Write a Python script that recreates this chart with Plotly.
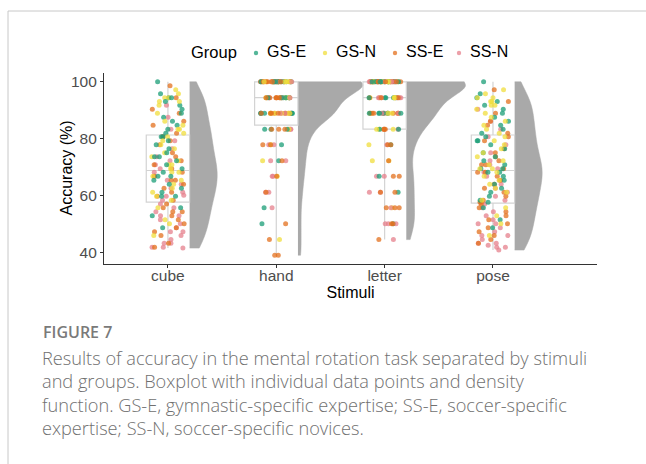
import numpy as np
import plotly.graph_objects as go

STIMULI = ["cube", "hand", "letter", "pose"]
GROUPS = ["GS-E", "GS-N", "SS-E", "SS-N"]
GROUP_COLORS = ["#1b9e77", "#f0de3c", "#e3701e", "#e6808c"]

# cube accuracy (%) per group
CUBE_GSE = [100.0, 95.8, 94.4, 94.4, 93.1, 91.7, 90.3, 88.9, 87.5, 86.1, 84.7, 83.3, 81.9,
            80.6, 80.6, 79.2, 77.8, 76.4, 75.0, 73.6, 73.6, 72.2, 70.8, 69.4,
            68.1, 66.7, 66.7, 65.3, 63.9, 62.5, 61.1, 59.7, 59.7,
            55.6, 52.8, 48.6]
CUBE_GSN = [97.2, 95.8, 94.4, 94.4, 93.1, 93.1, 91.7, 88.9, 86.1, 84.7, 83.3, 83.3, 81.9,
            80.6, 79.2, 77.8, 76.4, 75.0, 73.6, 72.2, 70.8, 70.8, 69.4,
            68.1, 68.1, 66.7, 65.3, 63.9, 62.5, 61.1, 59.7, 58.3,
            55.6, 51.4, 50.0, 45.8]
CUBE_SSE = [98.6, 94.4, 90.3, 88.9, 86.1, 84.7, 81.9,
            80.6, 79.2, 77.8, 75.0, 73.6, 72.2, 70.8, 69.4,
            68.1, 66.7, 65.3, 65.3, 63.9, 62.5, 61.1, 59.7, 58.3,
            56.9, 55.6, 54.2, 54.2, 52.8, 51.4, 50.0, 48.6, 47.2, 45.8, 43.1, 41.7]
CUBE_SSN = [91.7, 87.5, 83.3,
            80.6, 79.2, 76.4, 73.6, 72.2, 70.8, 69.4,
            68.1, 66.7, 65.3, 63.9, 62.5, 61.1, 60.0, 59.7, 58.3,
            56.9, 55.6, 54.2, 52.8, 52.8, 51.4, 50.0, 48.6, 47.2, 47.2, 45.8, 44.4,
            43.1, 43.1, 41.7, 41.7, 41.4]

# pose accuracy (%) per group
POSE_GSE = [100.0, 95.8, 94.4, 93.1, 91.7, 90.3, 88.9, 87.5, 86.1, 84.7, 83.3, 81.9,
            80.6, 79.2, 79.2, 77.8, 76.4, 75.0, 73.6, 72.2, 70.8, 69.4, 69.4,
            68.1, 68.1, 66.7, 65.3, 63.9, 62.5, 61.1, 59.7, 58.3, 57.6,
            55.6, 51.4, 48.6]
POSE_GSN = [97.2, 95.8, 94.4, 94.4, 93.1, 93.1, 91.7, 91.7, 90.3, 88.9, 87.5, 86.1, 84.7, 83.3, 81.9,
            80.6, 79.2, 77.8, 76.4, 75.0, 73.6, 72.2, 70.8, 69.4, 69.4,
            68.1, 66.7, 65.3, 63.9, 62.5, 61.1, 58.3,
            55.6, 52.8, 50.0, 45.8]
POSE_SSE = [97.2, 93.1, 88.9, 86.1, 84.7, 81.9,
            80.6, 79.2, 76.4, 75.0, 73.6, 72.2, 70.8, 70.8, 69.4,
            68.1, 68.1, 66.7, 65.3, 63.9, 62.5, 61.1, 59.7, 58.3, 57.6,
            56.9, 55.6, 54.2, 52.8, 51.4, 50.0, 48.6, 47.2, 45.8, 44.4, 43.1]
POSE_SSN = [90.3, 86.1, 83.3,
            80.6, 77.8, 75.0, 72.2, 70.8, 69.4,
            68.1, 66.7, 65.3, 63.9, 62.5, 61.1, 59.7, 58.3, 57.6,
            56.9, 55.6, 54.2, 52.8, 51.4, 50.0, 50.0, 48.6, 47.2, 45.8, 45.8, 44.4,
            43.1, 43.1, 41.7, 41.7, 40.7, 42.4]

# hand: number of participants at each accuracy level
HAND_LEVELS = [100.0, 94.4, 88.9, 83.3, 77.8, 72.2, 66.7, 61.1, 55.6, 50.0, 44.4, 38.9]
HAND_GSE_COUNTS = [14, 7, 6, 3, 1, 1, 0, 0, 1, 1, 0, 0]
HAND_GSN_COUNTS = [14, 6, 7, 1, 1, 1, 1, 0, 0, 0, 1, 0]
HAND_SSE_COUNTS = [14, 8, 7, 3, 2, 1, 1, 1, 0, 1, 1, 2]
HAND_SSN_COUNTS = [13, 6, 5, 3, 2, 2, 2, 2, 1, 0, 0, 0]

# letter: number of participants at each accuracy level
LETTER_LEVELS = [100.0, 94.4, 88.9, 83.3, 77.8, 72.2, 66.7, 61.1, 55.6, 50.0, 44.4]
LETTER_GSE_COUNTS = [16, 5, 6, 2, 1, 0, 1, 1, 0, 1, 0]
LETTER_GSN_COUNTS = [15, 5, 5, 3, 1, 2, 0, 0, 1, 0, 0]
LETTER_SSE_COUNTS = [15, 5, 6, 3, 2, 1, 2, 2, 3, 2, 1]
LETTER_SSN_COUNTS = [14, 5, 5, 2, 1, 0, 2, 2, 1, 3, 1]

Y_TICKS = [40, 60, 80, 100]


def expand(levels, counts):
    return list(np.repeat(levels, counts))


data = {
    "cube": [CUBE_GSE, CUBE_GSN, CUBE_SSE, CUBE_SSN],
    "hand": [expand(HAND_LEVELS, c) for c in
             (HAND_GSE_COUNTS, HAND_GSN_COUNTS, HAND_SSE_COUNTS, HAND_SSN_COUNTS)],
    "letter": [expand(LETTER_LEVELS, c) for c in
               (LETTER_GSE_COUNTS, LETTER_GSN_COUNTS, LETTER_SSE_COUNTS, LETTER_SSN_COUNTS)],
    "pose": [POSE_GSE, POSE_GSN, POSE_SSE, POSE_SSN],
}

JITTER = 0.15
BOX_W = 0.4
VIOLIN_MAX_W = 1.2   # full violin width; only the right half is drawn
POINT_ALPHA = 0.75


def spread(k, i):
    """Deterministic horizontal offset in [-1, 1] for the k-th point of column i."""
    h = np.sin(k * 12.9898 + i * 78.233) * 43758.5453
    return 2.0 * (h - np.floor(h)) - 1.0


def nrd0(v):
    v = np.asarray(v, float)
    q1, q3 = np.percentile(v, [25, 75])
    s = min(np.std(v, ddof=1), (q3 - q1) / 1.34)
    return 0.9 * s * len(v) ** (-0.2)


def kde_peak(v, bw):
    v = np.asarray(v, float)
    grid = np.linspace(v.min(), v.max(), 512)
    z = (grid[:, None] - v[None, :]) / bw
    dens = np.exp(-0.5 * z ** 2).sum(axis=1) / (len(v) * bw * np.sqrt(2 * np.pi))
    return dens.max()


fig = go.Figure()

# half violins (density); widths scaled by peak density so areas are comparable
all_vals = {s: np.concatenate([np.asarray(g, float) for g in data[s]]) for s in STIMULI}
bws = {s: nrd0(all_vals[s]) for s in STIMULI}
peaks = {s: kde_peak(all_vals[s], bws[s]) for s in STIMULI}
top_peak = max(peaks.values())
for i, s in enumerate(STIMULI, start=1):
    vals = all_vals[s]
    fig.add_trace(go.Violin(
        x=[i + BOX_W / 2] * len(vals), y=vals, side="positive",
        width=VIOLIN_MAX_W * peaks[s] / top_peak, name=s,
        scalegroup=s, scalemode="width", spanmode="hard", bandwidth=bws[s],
        fillcolor="#a9a9a9", line=dict(color="#a9a9a9", width=0.5), opacity=1,
        points=False, box_visible=False, meanline_visible=False,
        showlegend=False, hoverinfo="skip"))

# boxplots
bx, by = [], []
for i, s in enumerate(STIMULI, start=1):
    for g in data[s]:
        bx += [i] * len(g)
        by += list(g)
fig.add_trace(go.Box(
    x=bx, y=by, width=BOX_W, boxpoints=False, whiskerwidth=0,
    fillcolor="rgba(255,255,255,0)", line=dict(color="#d3d3d3", width=1.2),
    showlegend=False, hoverinfo="skip"))

# jittered individual points, groups interleaved so no colour sits on top of all others
px_, py_, pc_, pt_ = [], [], [], []
for i, s in enumerate(STIMULI, start=1):
    groups = data[s]
    k = 0
    for idx in range(max(len(g) for g in groups)):
        for gi, g in enumerate(groups):
            if idx < len(g):
                px_.append(i + JITTER * spread(k, i))
                py_.append(g[idx])
                pc_.append(GROUP_COLORS[gi])
                pt_.append(GROUPS[gi])
                k += 1
fig.add_trace(go.Scatter(
    x=px_, y=py_, mode="markers", showlegend=False, text=pt_,
    hovertemplate="%{text}: %{y}<extra></extra>",
    marker=dict(color=pc_, size=5, opacity=POINT_ALPHA, line=dict(width=0))))

AX_FONT = "Liberation Sans, Arial, sans-serif"
fig.update_layout(
    width=646, height=464,
    margin=dict(l=104, r=49, t=73, b=200),
    paper_bgcolor="white", plot_bgcolor="white",
    violinmode="overlay", boxmode="overlay",
    font=dict(family=AX_FONT, size=15, color="#4d4d4d"),
    showlegend=False,
    xaxis=dict(
        range=[0.41, 4.96], tickvals=[1, 2, 3, 4], ticktext=STIMULI,
        showline=True, linecolor="#333333", linewidth=1.1, mirror=False,
        ticks="outside", ticklen=3, tickcolor="#333333", showgrid=False, zeroline=False,
        tickfont=dict(size=15.5, color="#4d4d4d"), ticklabelstandoff=-6,
        title=dict(text="Stimuli", font=dict(size=16, color="black"), standoff=0)),
    yaxis=dict(
        range=[35.8, 103.1], tickvals=Y_TICKS,
        showline=True, linecolor="#333333", linewidth=1.1,
        ticks="outside", ticklen=3, tickcolor="#333333", showgrid=False, zeroline=False,
        tickfont=dict(size=15.5, color="#4d4d4d")),
)

# pixel -> paper helpers
PW, PH, L, T = 493.0, 191.0, 104.0, 73.0


def px(x):
    return (x - L) / PW


def py(y):
    return (T + PH - y) / PH


# y-axis title
fig.add_annotation(xref="paper", yref="paper", x=px(66), y=py(168.5), xanchor="center", yanchor="middle",
                   text="Accuracy (%)", textangle=-90, showarrow=False,
                   font=dict(family=AX_FONT, size=16, color="black"))

# group key above the panel
LEG_Y = 52
fig.add_annotation(xref="paper", yref="paper", x=px(189), y=py(LEG_Y), xanchor="left", yanchor="middle",
                   text="Group", showarrow=False, font=dict(family=AX_FONT, size=16.5, color="black"))
KEY_DOT_X = [256, 325, 395, 459]
for g, c, dx in zip(GROUPS, GROUP_COLORS, KEY_DOT_X):
    r = 2.2
    fig.add_shape(type="circle", xref="paper", yref="paper",
                  x0=px(dx - r), x1=px(dx + r), y0=py(LEG_Y + 1 + r), y1=py(LEG_Y + 1 - r),
                  fillcolor=c, opacity=POINT_ALPHA, line=dict(width=0))
    fig.add_annotation(xref="paper", yref="paper", x=px(dx + 9), y=py(LEG_Y), xanchor="left",
                       yanchor="middle", text=g, showarrow=False,
                       font=dict(family=AX_FONT, size=16, color="black"))

# outer frame
fig.add_shape(type="line", xref="paper", yref="paper", x0=px(8), x1=px(660), y0=py(11), y1=py(11),
              line=dict(color="#c8c8c8", width=1))
fig.add_shape(type="line", xref="paper", yref="paper", x0=px(8), x1=px(8), y0=py(11), y1=py(480),
              line=dict(color="#c8c8c8", width=1))

CAP_FONT = "Open Sans, sans-serif"
fig.add_annotation(xref="paper", yref="paper", x=px(41), y=py(332), xanchor="left", yanchor="middle",
                   text="FIGURE 7", showarrow=False,
                   font=dict(family=CAP_FONT, size=16, color="#7a7a7a", weight=600))
caption = [
    "Results of accuracy in the mental rotation task separated by stimuli",
    "and groups. Boxplot with individual data points and density",
    "function. GS-E, gymnastic-specific expertise; SS-E, soccer-specific",
    "expertise; SS-N, soccer-specific novices.",
]
for j, line in enumerate(caption):
    fig.add_annotation(xref="paper", yref="paper", x=px(40), y=py(358 + 23.3 * j),
                       xanchor="left", yanchor="middle", text=line, showarrow=False,
                       font=dict(family=CAP_FONT, size=18.2, color="#707070", weight=300))

fig.write_html("out.html")
